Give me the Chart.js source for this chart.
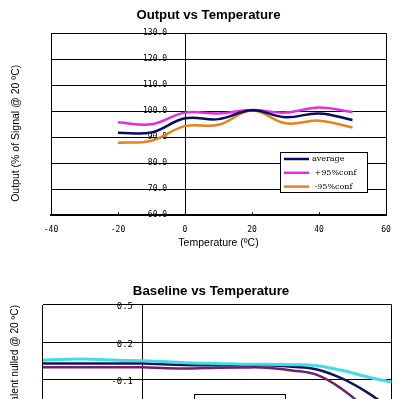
<!DOCTYPE html>
<html><head><meta charset="utf-8">
<script src="https://cdn.jsdelivr.net/npm/chart.js@4.4.1/dist/chart.umd.min.js"></script>
<style>
html,body{margin:0;padding:0;background:#fff;overflow:hidden;}
#wrap{position:relative;width:402px;height:399px;overflow:hidden;background:#fff;}
#c1{position:absolute;left:0;top:0;}
#c2{position:absolute;left:0;top:270px;}
</style></head><body>
<div id="wrap">
<canvas id="c1" width="408" height="262"></canvas>
<canvas id="c2" width="413" height="269"></canvas>
</div>
<script>
// ---------- Chart 1: Output vs Temperature ----------
const outTemps = [-20, -10, 0, 10, 20, 30, 40, 50];
const outAverage = [91.8, 91.9, 97.3, 97.0, 100.4, 97.7, 99.2, 96.7];
const outPlus95 = [95.8, 95.0, 99.5, 99.2, 100.5, 99.5, 101.5, 99.7];
const outMinus95 = [87.9, 88.7, 94.3, 94.8, 100.3, 95.4, 96.4, 93.8];
const outXTicks = [-40, -20, 0, 20, 40, 60];
const outYTicks = [60, 70, 80, 90, 100, 110, 120, 130];
const outLabels = ['average', ' +95%conf', ' -95%conf'];

// ---------- Chart 2: Baseline vs Temperature ----------
const baseTemps = [-20, -15, -10, -5, 0, 5, 10, 15, 20, 25, 30, 35, 40, 45, 50];
const baseUpper = [0.056, 0.064, 0.064, 0.056, 0.052, 0.044, 0.033, 0.030, 0.024, 0.024, 0.020, 0.012, -0.025, -0.076, -0.120];
const baseMiddle = [0.030, 0.030, 0.030, 0.030, 0.029, 0.022, 0.016, 0.016, 0.016, 0.016, 0.004, -0.018, -0.090, -0.200, -0.340];
const baseLower = [-0.001, -0.001, -0.001, -0.001, -0.001, -0.008, -0.010, -0.004, -0.002, -0.004, -0.026, -0.062, -0.175, -0.340, -0.540];
const baseXTicks = [-20, -10, 0, 10, 20, 30, 40, 50];
const baseYTicks = [-1.0, -0.7, -0.4, -0.1, 0.2, 0.5];
const baseLabels = [' +95%conf', 'average', ' -95%conf'];

Chart.defaults.font.family = 'Liberation Sans';
Chart.defaults.color = '#000';

const pts = (xs, ys) => xs.map((x, i) => ({x: x, y: ys[i]}));

const boxLegend = {
  id: 'boxLegend',
  afterDatasetsDraw(chart, args, o) {
    if (!o || !o.box) return;
    const ctx = chart.ctx, b = o.box;
    ctx.save();
    ctx.fillStyle = '#fff';
    ctx.fillRect(b.x, b.y, b.w, b.h);
    ctx.strokeStyle = '#000';
    ctx.lineWidth = 1;
    ctx.strokeRect(b.x + 0.5, b.y + 0.5, b.w, b.h);
    ctx.font = o.font;
    ctx.textBaseline = 'middle';
    ctx.textAlign = 'left';
    chart.data.datasets.forEach((ds, i) => {
      const y = b.y + o.rowTop + i * o.rowGap;
      ctx.strokeStyle = ds.borderColor;
      ctx.lineWidth = o.lineWidth;
      ctx.beginPath();
      ctx.moveTo(b.x + o.lineX0, y);
      ctx.lineTo(b.x + o.lineX1, y);
      ctx.stroke();
      ctx.fillStyle = '#000';
      ctx.fillText(ds.label, b.x + o.textX, y);
    });
    ctx.restore();
  }
};

const innerTicks = {
  id: 'innerTicks',
  afterDatasetsDraw(chart, args, o) {
    const s = chart.scales.x, ctx = chart.ctx, bottom = chart.chartArea.bottom;
    ctx.save();
    ctx.strokeStyle = '#000';
    ctx.lineWidth = 1;
    s.ticks.forEach(t => {
      const px = Math.round(s.getPixelForValue(t.value)) + 0.5;
      ctx.beginPath();
      ctx.moveTo(px, bottom);
      ctx.lineTo(px, bottom - ((o && o.len) || 3));
      ctx.stroke();
    });
    ctx.restore();
  }
};

const titleShift = {
  id: 'titleShift',
  afterLayout(chart, args, o) {
    if (!o) return;
    const s = chart.scales.yt;
    if (s && o.dy) { s.top += o.dy; s.bottom += o.dy; }
    const t = chart.titleBlock;
    if (t && o.tx) { t.left += o.tx; t.right += o.tx; }
  }
};

const keyLine = c => (c.tick.value === 0 || c.tick.value === c.scale.min || c.tick.value === c.scale.max) ? '#000' : 'rgba(0,0,0,0)';
const flatAxis = s => { s.width = 0; s.paddingTop = 5; s.paddingBottom = 5; };

new Chart(document.getElementById('c1'), {
  type: 'line',
  data: {
    datasets: [
      {label: outLabels[0], data: pts(outTemps, outAverage), borderColor: '#0a0a62', borderWidth: 2.5},
      {label: outLabels[1], data: pts(outTemps, outPlus95), borderColor: '#e02ee0', borderWidth: 2.5},
      {label: outLabels[2], data: pts(outTemps, outMinus95), borderColor: '#e8801e', borderWidth: 2.5}
    ]
  },
  plugins: [innerTicks, boxLegend, titleShift],
  options: {
    responsive: false,
    animation: false,
    events: [],
    layout: {padding: {left: 9.7, right: 22, top: 0, bottom: 0}},
    elements: {point: {radius: 0}, line: {tension: 0.4, fill: false}},
    plugins: {
      legend: {display: false},
      tooltip: {enabled: false},
      title: {display: true, text: 'Output vs Temperature', color: '#000',
        font: {family: 'Liberation Sans', size: 13.2, weight: 'bold'}, padding: {top: 7.1, bottom: 10.4}},
      boxLegend: {box: {x: 280, y: 152, w: 87, h: 40}, rowTop: 7, rowGap: 13.8, lineX0: 4, lineX1: 29,
        textX: 32, lineWidth: 2.5, font: '8px "DejaVu Serif"'},
      innerTicks: {len: 3},
      titleShift: {dy: 9, tx: 10.6}
    },
    scales: {
      x: {
        type: 'linear', min: -40, max: 60,
        afterBuildTicks: s => { s.ticks = outXTicks.map(v => ({value: v})); },
        grid: {drawTicks: false, color: keyLine, lineWidth: 1},
        border: {color: '#000', width: 2},
        ticks: {font: {family: 'DejaVu Sans Mono', size: 8}, color: '#000', padding: 9.5},
        title: {display: true, text: 'Temperature (ºC)', color: '#000',
          font: {family: 'Liberation Sans', size: 10.5}, padding: {top: 1, bottom: 13}},
        afterFit: s => { s.height = 46.7; }
      },
      y: {
        type: 'linear', position: 'left', weight: 0, min: 60, max: 130,
        afterBuildTicks: s => { s.ticks = outYTicks.map(v => ({value: v})); },
        grid: {color: '#000', drawTicks: false, lineWidth: 1},
        border: {display: false},
        ticks: {mirror: true, crossAlign: 'far', padding: 92, color: '#000',
          font: {family: 'DejaVu Sans Mono', size: 8}, callback: v => Number(v).toFixed(1)},
        afterFit: flatAxis
      },
      yt: {
        type: 'linear', position: 'left', weight: 10,
        grid: {display: false}, border: {display: false}, ticks: {display: false},
        title: {display: true, text: 'Output (% of Signal @ 20 ºC)', color: '#000',
          font: {family: 'Liberation Sans', size: 10.5}, padding: {top: 0, bottom: 0}},
        afterFit: s => { s.width = 41.3; }
      }
    }
  }
});

new Chart(document.getElementById('c2'), {
  type: 'line',
  data: {
    datasets: [
      {label: baseLabels[0], data: pts(baseTemps, baseUpper), borderColor: '#40dde6', borderWidth: 3},
      {label: baseLabels[1], data: pts(baseTemps, baseMiddle), borderColor: '#14145e', borderWidth: 2.5},
      {label: baseLabels[2], data: pts(baseTemps, baseLower), borderColor: '#6e206e', borderWidth: 2.5}
    ]
  },
  plugins: [innerTicks, boxLegend, titleShift],
  options: {
    responsive: false,
    animation: false,
    events: [],
    layout: {padding: {left: 8.7, right: 21.3, top: 0, bottom: 0}},
    elements: {point: {radius: 0}, line: {tension: 0.4, fill: false}},
    plugins: {
      legend: {display: false},
      tooltip: {enabled: false},
      title: {display: true, text: 'Baseline vs Temperature', color: '#000',
        font: {family: 'Liberation Sans', size: 13.3, weight: 'bold'}, padding: {top: 13, bottom: 6}},
      boxLegend: {box: {x: 194, y: 124, w: 91, h: 50}, rowTop: 14, rowGap: 15, lineX0: 5, lineX1: 33,
        textX: 36, lineWidth: 2.5, font: '9px "DejaVu Serif"'},
      innerTicks: {len: 3},
      titleShift: {tx: 10.8}
    },
    scales: {
      x: {
        type: 'linear', min: -20, max: 50,
        afterBuildTicks: s => { s.ticks = baseXTicks.map(v => ({value: v})); },
        grid: {drawTicks: false, color: keyLine, lineWidth: 1},
        border: {color: '#000', width: 2},
        ticks: {font: {family: 'DejaVu Sans Mono', size: 9}, color: '#000', padding: 8},
        title: {display: true, text: 'Temperature (ºC)', color: '#000',
          font: {family: 'Liberation Sans', size: 11}, padding: {top: 1, bottom: 13}},
        afterFit: s => { s.height = 47.3; }
      },
      y: {
        type: 'linear', position: 'left', weight: 0, min: -1.0, max: 0.5,
        afterBuildTicks: s => { s.ticks = baseYTicks.map(v => ({value: v})); },
        grid: {color: '#000', drawTicks: false, lineWidth: 1},
        border: {display: false},
        ticks: {mirror: true, crossAlign: 'far', padding: 68.6, labelOffset: 2, color: '#000',
          font: {family: 'DejaVu Sans Mono', size: 9}, callback: v => Number(v).toFixed(1)},
        afterFit: flatAxis
      },
      yt: {
        type: 'linear', position: 'left', weight: 10,
        grid: {display: false}, border: {display: false}, ticks: {display: false},
        title: {display: true, align: 'end', text: 'Output (% of Signal equivalent nulled @ 20 ºC)', color: '#000',
          font: {family: 'Liberation Sans', size: 10.2}, padding: {top: 0, bottom: 0}},
        afterFit: s => { s.width = 34; }
      }
    }
  }
});
</script>
</body></html>
